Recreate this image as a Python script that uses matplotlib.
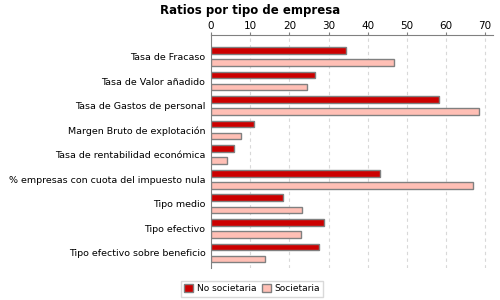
import matplotlib
matplotlib.use("Agg")
import matplotlib.pyplot as plt
import numpy as np

# Categories (top to bottom) and values
categorias = [
    "Tasa de Fracaso",
    "Tasa de Valor añadido",
    "Tasa de Gastos de personal",
    "Margen Bruto de explotación",
    "Tasa de rentabilidad económica",
    "% empresas con cuota del impuesto nula",
    "Tipo medio",
    "Tipo efectivo",
    "Tipo efectivo sobre beneficio",
]
no_societaria = [34.4, 26.6, 58.1, 10.9, 5.8, 43.2, 18.4, 28.8, 27.7]
societaria = [46.6, 24.4, 68.3, 7.7, 4.0, 67.0, 23.3, 23.0, 13.9]
ticks = [0, 10, 20, 30, 40, 50, 60, 70]


def main():
    fig = plt.figure(figsize=(5, 3), dpi=100)
    ax = fig.add_axes([0.422, 0.107, 0.564, 0.776])

    y = np.arange(len(categorias))
    h = 0.27
    ax.barh(y - 0.245, no_societaria, height=h, color="#cc0000",
            edgecolor="#808080", linewidth=1, label="No societaria", zorder=3)
    ax.barh(y + 0.245, societaria, height=h, color="#ffbfb5",
            edgecolor="#808080", linewidth=1, label="Societaria", zorder=3)

    ax.set_ylim(8.61, -0.87)
    ax.set_xlim(0, 72)
    ax.set_xticks(ticks)
    ax.xaxis.tick_top()
    ax.tick_params(axis="x", labelsize=7.5, length=2, color="#808080", pad=1)
    ax.set_yticks(y)
    ax.set_yticklabels(categorias, fontsize=6.8)
    ax.tick_params(axis="y", length=0, pad=4)
    ax.grid(axis="x", linestyle=(0, (3, 3)), color="#d8d8d8", linewidth=0.8, zorder=0)

    for s in ["right", "bottom"]:
        ax.spines[s].set_visible(False)
    for s in ["left", "top"]:
        ax.spines[s].set_color("#808080")

    fig.text(0.5, 0.965, "Ratios por tipo de empresa", ha="center", va="center",
             fontsize=8.5, fontweight="bold")

    fig.legend(loc="center", bbox_to_anchor=(0.504, 0.037), ncol=2, fontsize=6.5,
               frameon=True, fancybox=False, edgecolor="#d0d0d0",
               handlelength=1.0, handleheight=1.0, handletextpad=0.4,
               columnspacing=0.6, borderpad=0.4)

    fig.savefig("out.png", dpi=100)


if __name__ == "__main__":
    main()
